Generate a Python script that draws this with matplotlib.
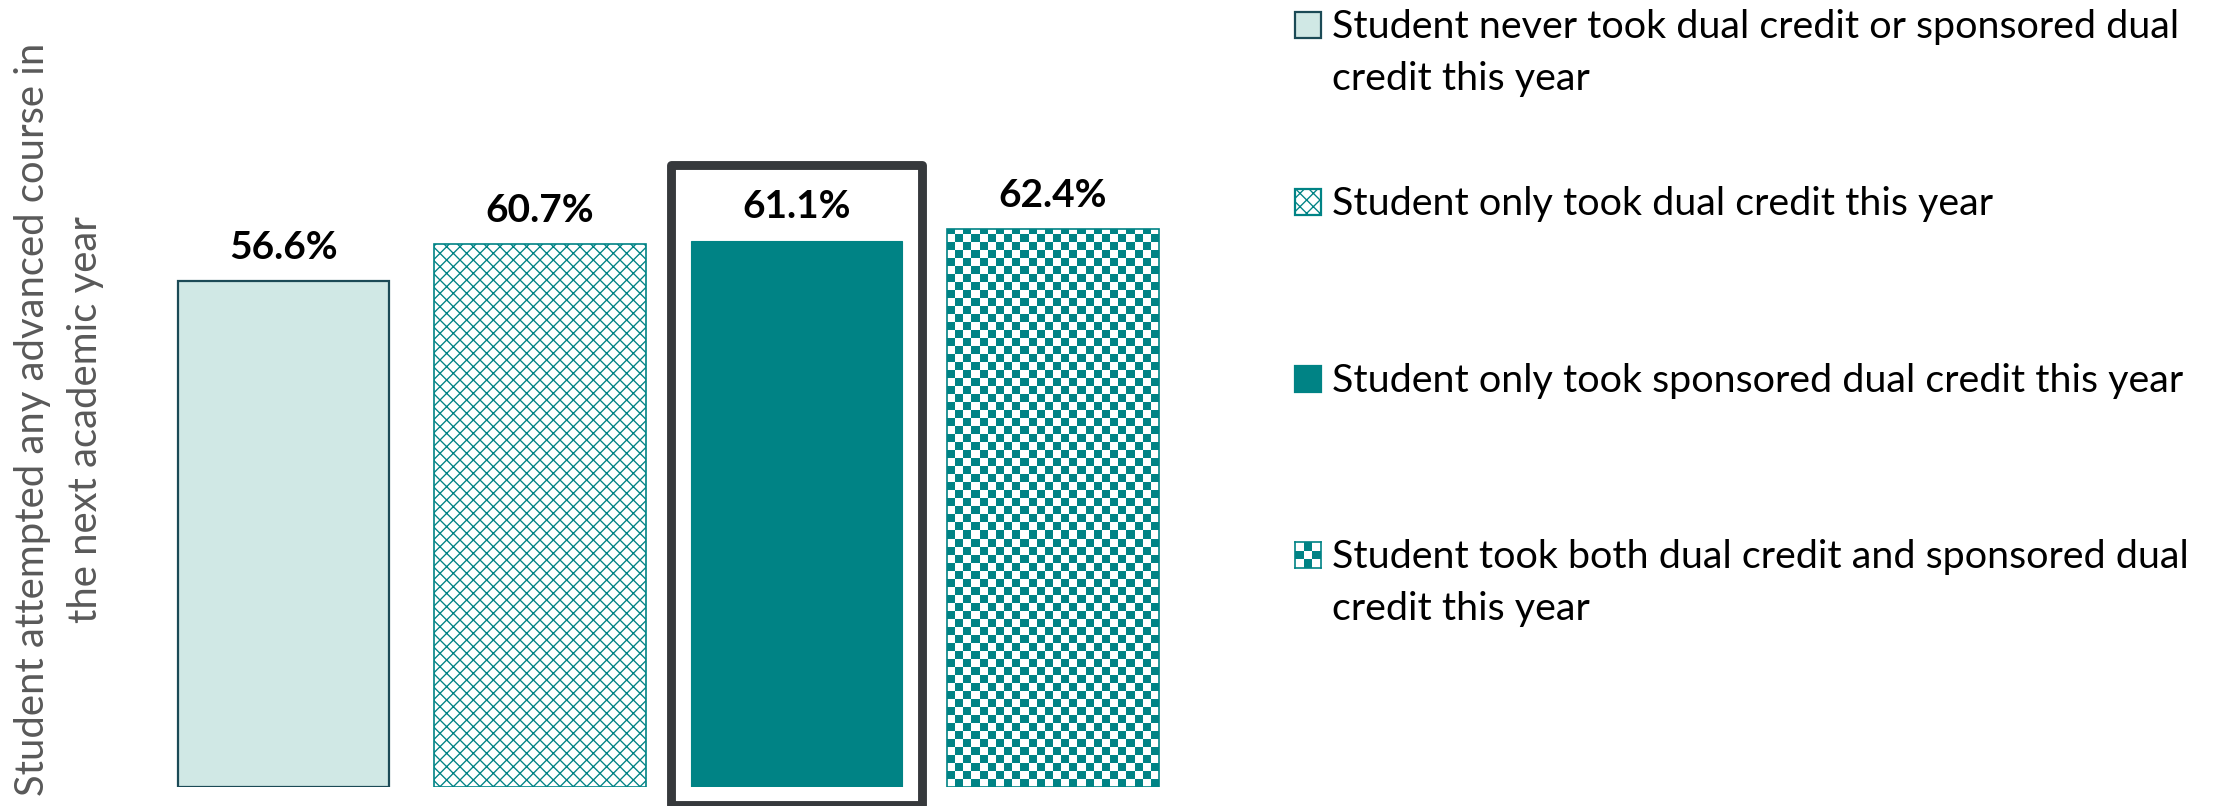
import numpy as np
import matplotlib.pyplot as plt
from matplotlib.colors import ListedColormap
from matplotlib.patches import Rectangle

plt.rcParams['font.family'] = ['Lato', 'DejaVu Sans']
plt.rcParams['hatch.linewidth'] = 1.2

# Share of students attempting an advanced course the following year
groups = [
    "Student never took dual credit or sponsored dual\ncredit this year",
    "Student only took dual credit this year",
    "Student only took sponsored dual credit this year",
    "Student took both dual credit and sponsored dual\ncredit this year",
]
pct = [56.6, 60.7, 61.1, 62.4]
highlight = 2  # sponsored-only group gets the frame

teal = "#008385"
light = "#d0e8e5"
dark_edge = "#1b4a56"
frame_col = "#36393c"
checker_cmap = ListedColormap(["white", teal])

# dpi 80 keeps the 'xx' hatch at a fine lattice
DPI = 80
W, H = 2219, 806
fig = plt.figure(figsize=(W / DPI, H / DPI), dpi=DPI)
ax = fig.add_axes([0.06996, 0.02357, 0.4624, 0.7767])

x = np.arange(len(pct))
bw = 0.826

bars = ax.bar(x, pct, width=bw, zorder=2)
styles = [
    dict(facecolor=light, edgecolor=dark_edge, hatch=None, lw=2.0),
    dict(facecolor="white", edgecolor=teal, hatch="xx", lw=1.5),
    dict(facecolor=teal, edgecolor=teal, hatch=None, lw=1.0),
    dict(facecolor="none", edgecolor=teal, hatch=None, lw=1.5),
]
for b, s in zip(bars, styles):
    b.set_facecolor(s["facecolor"])
    b.set_edgecolor(s["edgecolor"])
    b.set_linewidth(s["lw"])
    if s["hatch"]:
        b.set_hatch(s["hatch"])

# checkerboard fill for the last bar, clipped to the bar rectangle
b4 = bars[3]
cell_x = 8 / 256.5
cell_y = 8 / 8.94
ncol = int(round(bw / cell_x))
nrow = int(np.ceil(pct[3] / cell_y))
checker = (np.add.outer(np.arange(nrow), np.arange(ncol)) % 2).astype(float)
img = ax.imshow(checker, cmap=checker_cmap,
                extent=(b4.get_x(), b4.get_x() + bw, 0, nrow * cell_y),
                origin="lower", interpolation="nearest", aspect="auto", zorder=1)
img.set_clip_path(b4)

for xi, v in zip(x, pct):
    ax.annotate(f"{v:.1f}%", (xi, v), xytext=(0, 20), textcoords="offset points",
                ha="center", va="baseline", fontsize=35, fontweight="bold", color="black")

# frame around the highlighted bar
ax.add_patch(Rectangle((highlight - 0.49, -2.0), 0.98, 71.5, fill=False,
                       edgecolor=frame_col, linewidth=8, joinstyle="round",
                       clip_on=False, zorder=3))

ax.set_xlim(-0.5, 3.5)
ax.set_ylim(0, 70)
ax.axis("off")

fig.text(0.0267, 0.48, "Student attempted any advanced course in\nthe next academic year",
         rotation=90, ha="center", va="center", multialignment="center",
         fontsize=36, color="#595959", linespacing=1.55)

# legend, one entry at a time
base_px = [38, 215, 392, 568]
line_px = 52
mk_x, mk_s, txt_x = 1295, 26, 1332
for i, (lab, yb) in enumerate(zip(groups, base_px)):
    y0 = (H - yb) / H
    rect = [mk_x / W, y0, mk_s / W, mk_s / H]
    if i == 3:
        lax = fig.add_axes(rect)
        lax.imshow(np.add.outer(np.arange(3), np.arange(3)) % 2, cmap=checker_cmap,
                   interpolation="nearest", aspect="auto")
        lax.set_xticks([])
        lax.set_yticks([])
        for sp in lax.spines.values():
            sp.set_edgecolor(teal)
            sp.set_linewidth(1.5)
    else:
        s = styles[i]
        fig.patches.append(Rectangle((rect[0], rect[1]), rect[2], rect[3],
                                     transform=fig.transFigure,
                                     facecolor=s["facecolor"], edgecolor=s["edgecolor"],
                                     hatch=s["hatch"], linewidth=2.0))
    for j, line in enumerate(lab.split("\n")):
        fig.text(txt_x / W, (H - yb - j * line_px) / H, line, ha="left", va="baseline",
                 fontsize=35.5, color="black")

fig.savefig("out.png", dpi=DPI, facecolor="white")
